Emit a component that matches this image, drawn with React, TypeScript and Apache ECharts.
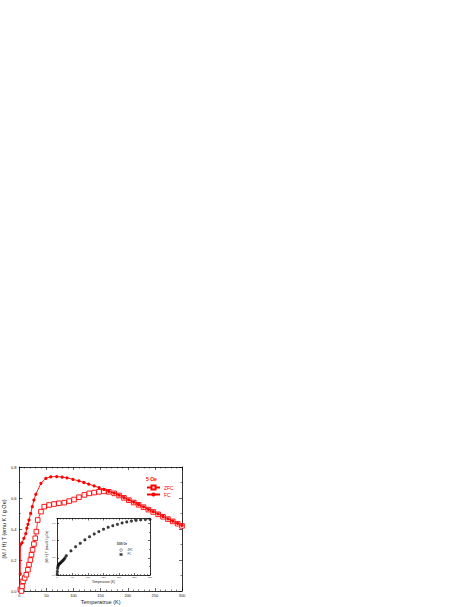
import React, { useEffect, useRef } from 'react';
import * as echarts from 'echarts';

// Main panel (5 Oe)
const zfcT = [2, 4, 5.2, 7, 10, 13, 16, 18, 20.5, 22.5, 24.5, 27, 29.5, 31.5, 34, 40, 46, 55, 64, 73, 83, 92, 101, 110, 120, 129, 138, 147, 156, 165, 175, 184, 193, 202, 211, 220, 229, 238, 247, 256, 265, 274, 283, 292, 300];
const zfcM = [0.01, 0.0, 0.03, 0.063, 0.084, 0.105, 0.137, 0.17, 0.2, 0.234, 0.266, 0.303, 0.34, 0.383, 0.458, 0.512, 0.544, 0.555, 0.561, 0.566, 0.57, 0.58, 0.59, 0.605, 0.62, 0.63, 0.635, 0.64, 0.643, 0.64, 0.63, 0.616, 0.601, 0.586, 0.571, 0.556, 0.541, 0.525, 0.51, 0.495, 0.479, 0.464, 0.449, 0.434, 0.42];
const fcT = [1.8, 2.2, 5, 8.5, 12, 14, 16, 18, 21, 24, 27, 30.5, 40, 49, 58, 69, 79, 88, 99, 110, 119, 128, 138, 147, 156, 165, 175, 184, 193, 202, 211, 220, 229, 238, 247, 256, 265, 274, 283, 292, 300];
const fcM = [0.11, 0.3, 0.31, 0.34, 0.37, 0.405, 0.43, 0.458, 0.5, 0.544, 0.587, 0.624, 0.695, 0.727, 0.737, 0.738, 0.735, 0.73, 0.72, 0.71, 0.7, 0.69, 0.678, 0.667, 0.655, 0.643, 0.632, 0.618, 0.603, 0.588, 0.573, 0.558, 0.543, 0.527, 0.512, 0.497, 0.481, 0.466, 0.451, 0.436, 0.423];

// Inset (high field)
const insetT = [0.5, 1, 2, 3, 4, 5, 6, 8, 10, 12, 15, 18, 20, 23, 26, 30, 45, 60, 75, 90, 105, 120, 135, 150, 165, 180, 195, 210, 225, 240, 255, 270, 285, 300];
const insetFC = [0.02, 0.1, 0.19, 0.24, 0.28, 0.3, 0.31, 0.325, 0.34, 0.36, 0.385, 0.41, 0.43, 0.46, 0.5, 0.56, 0.7, 0.82, 0.92, 1.02, 1.11, 1.19, 1.26, 1.33, 1.385, 1.43, 1.47, 1.51, 1.54, 1.565, 1.585, 1.6, 1.61, 1.615];
const insetZFC = [0.02, 0.1, 0.19, 0.24, 0.28, 0.3, 0.31, 0.325, 0.34, 0.36, 0.385, 0.41, 0.43, 0.46, 0.5, 0.56, 0.7, 0.82, 0.92, 1.02, 1.11, 1.19, 1.26, 1.33, 1.385, 1.43, 1.47, 1.51, 1.54, 1.565, 1.585, 1.6, 1.61, 1.615];

const mainTitle = '5 Oe';
const insetTitle = '5000 Oe';
const xName = 'Temperatrue (K)';
const insetXName = 'Temperature (K)';
const yName = '(M / H) T (emu K / g Oe)';

const FONT = 'Liberation Sans, Arial, sans-serif';
const RED = '#ff0000';
const INK = '#222';

const pair = (xs: number[], ys: number[]) => xs.map((x, i) => [x, ys[i]]);

function axisBase(gridIndex: number, position: string, min: number, max: number, interval: number, showLabel: boolean, fs: number, tickLen: number, minorSplit: number, fmt?: (v: number) => string) {
  return {
    type: 'value',
    gridIndex,
    position,
    min,
    max,
    interval,
    splitLine: { show: false },
    axisLine: { show: true, onZero: false, lineStyle: { color: '#000', width: 0.8 } },
    axisTick: { show: true, inside: true, length: tickLen, lineStyle: { color: '#000', width: 0.6 } },
    minorTick: { show: true, splitNumber: minorSplit, length: tickLen / 2, lineStyle: { color: '#000', width: 0.5 } },
    axisLabel: {
      show: showLabel,
      fontSize: fs,
      color: INK,
      fontFamily: FONT,
      margin: fs * 0.7,
      formatter: fmt,
    },
  };
}

export default function App() {
  const ref = useRef<HTMLDivElement>(null);
  useEffect(() => {
    if (!ref.current) return;
    const chart = echarts.init(ref.current, undefined, { renderer: 'svg' });
    const f1 = (v: number) => v.toFixed(1);
    const fInsetY = (v: number) => (Math.abs(v / 0.5 - Math.round(v / 0.5)) < 1e-6 ? v.toFixed(1) : '');
    const fInt = (v: number) => String(Math.round(v));

    const mx0: any = axisBase(0, 'bottom', 0, 300, 50, true, 4, 3, 5, fInt);
    mx0.name = xName;
    mx0.nameLocation = 'middle';
    mx0.nameGap = 8;
    mx0.nameTextStyle = { fontSize: 5.5, color: INK, fontFamily: FONT };
    const mx1: any = axisBase(0, 'top', 0, 300, 50, false, 4, 3, 5);
    const my0: any = axisBase(0, 'left', 0, 0.8, 0.2, true, 4, 3, 2, f1);
    my0.name = yName;
    my0.nameLocation = 'middle';
    my0.nameGap = 10;
    my0.nameTextStyle = { fontSize: 5.5, color: INK, fontFamily: FONT };
    const my1: any = axisBase(0, 'right', 0, 0.8, 0.2, false, 4, 3, 2);

    const ix0: any = axisBase(1, 'bottom', 0, 300, 50, true, 2.4, 2, 5, fInt);
    ix0.name = insetXName;
    ix0.nameLocation = 'middle';
    ix0.nameGap = 5.5;
    ix0.nameTextStyle = { fontSize: 3.2, color: INK, fontFamily: FONT };
    const ix1: any = axisBase(1, 'top', 0, 300, 50, false, 2.4, 2, 5);
    const iy0: any = axisBase(1, 'left', 0, 1.64, 0.5, true, 2.4, 2, 2, fInsetY);
    iy0.name = yName;
    iy0.nameLocation = 'middle';
    iy0.nameGap = 6.5;
    iy0.nameTextStyle = { fontSize: 3, color: INK, fontFamily: FONT };
    const iy1: any = axisBase(1, 'right', 0, 1.64, 0.5, false, 2.4, 2, 2);

    const insetLegendText = { fontSize: 2.6, color: INK, fontFamily: FONT };

    chart.setOption({
      animation: false,
      backgroundColor: '#fff',
      title: [
        { text: mainTitle, left: 146, top: 476, padding: 0, textStyle: { fontSize: 5, color: RED, fontWeight: 'bold', fontFamily: FONT } },
        { text: insetTitle, left: 117, top: 543, padding: 0, textStyle: { fontSize: 2.6, color: INK, fontWeight: 'bold', fontFamily: FONT } },
      ],
      legend: [
        {
          data: ['ZFC', 'FC'],
          orient: 'vertical',
          left: 146,
          top: 484.5,
          padding: 0,
          itemWidth: 13,
          itemHeight: 5,
          itemGap: 1.5,
          selectedMode: false,
          textStyle: { fontSize: 5, color: RED, fontFamily: FONT, padding: [0, 0, 0, -1] },
        },
        {
          data: [
            { name: 'ZFC_i', icon: 'circle', itemStyle: { color: '#fff', borderColor: '#000', borderWidth: 0.5 }, textStyle: insetLegendText },
            { name: 'FC_i', icon: 'rect', itemStyle: { color: '#111', borderWidth: 0 }, textStyle: insetLegendText },
          ],
          orient: 'vertical',
          left: 119.5,
          top: 548.5,
          padding: 0,
          itemWidth: 3,
          itemHeight: 2.6,
          itemGap: 1.4,
          selectedMode: false,
          formatter: (n: string) => n.replace('_i', ''),
          textStyle: insetLegendText,
        },
      ],
      grid: [
        { left: 18.5, top: 467, width: 163.5, height: 124, containLabel: false },
        { left: 57, top: 518.5, width: 93, height: 56.5, containLabel: false },
      ],
      xAxis: [mx0, mx1, ix0, ix1],
      yAxis: [my0, my1, iy0, iy1],
      series: [
        {
          name: 'ZFC',
          type: 'line',
          xAxisIndex: 0,
          yAxisIndex: 0,
          data: pair(zfcT, zfcM),
          symbol: 'rect',
          symbolSize: 4.6,
          showAllSymbol: true,
          lineStyle: { color: RED, width: 0.8 },
          itemStyle: { color: '#fff', borderColor: RED, borderWidth: 0.9 },
          z: 2,
        },
        {
          name: 'FC',
          type: 'line',
          xAxisIndex: 0,
          yAxisIndex: 0,
          data: pair(fcT, fcM),
          symbol: 'circle',
          symbolSize: 3.2,
          showAllSymbol: true,
          lineStyle: { color: RED, width: 0.9 },
          itemStyle: { color: RED, borderColor: RED, borderWidth: 0 },
          z: 3,
        },
        {
          name: 'ZFC_i',
          type: 'scatter',
          xAxisIndex: 2,
          yAxisIndex: 2,
          data: pair(insetT, insetZFC),
          symbol: 'circle',
          symbolSize: 2.4,
          itemStyle: { color: '#fff', borderColor: '#000', borderWidth: 0.5 },
          z: 4,
        },
        {
          name: 'FC_i',
          type: 'scatter',
          xAxisIndex: 2,
          yAxisIndex: 2,
          data: pair(insetT, insetFC),
          symbol: 'rect',
          symbolSize: 2.4,
          itemStyle: { color: '#111', borderColor: '#111', borderWidth: 0 },
          z: 5,
        },
      ],
      graphic: [
        {
          type: 'rect',
          shape: { x: 57, y: 518.5, width: 93, height: 56.5 },
          style: { fill: '#fff', stroke: 'none' },
          z: 0,
          zlevel: 0,
          silent: true,
        },
      ],
    });
    return () => chart.dispose();
  }, []);
  return <div ref={ref} style={{ position: 'absolute', left: 0, top: 0, width: 469, height: 607 }} />;
}
